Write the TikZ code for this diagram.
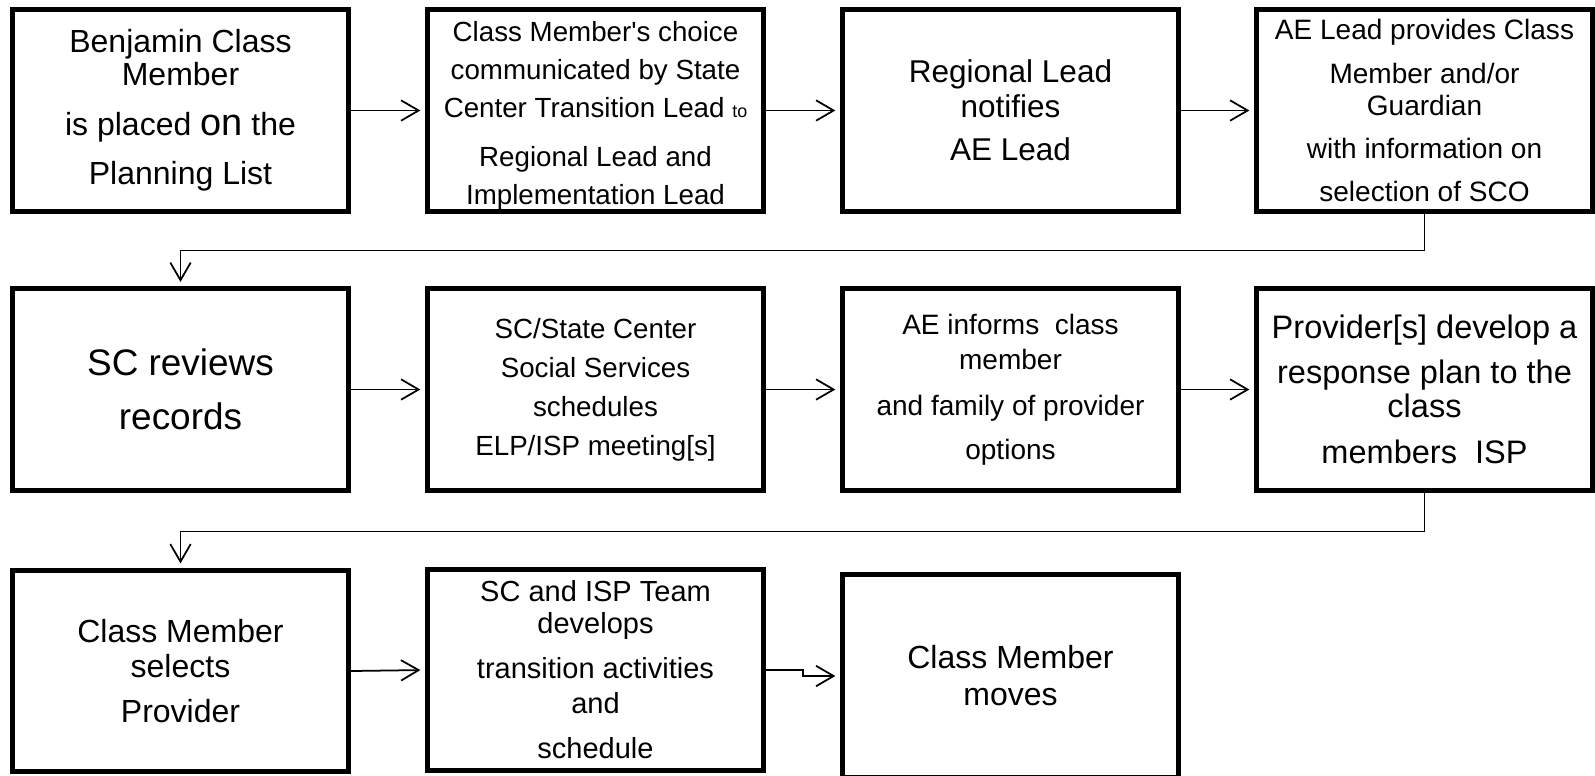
\documentclass[tikz,border=0pt]{standalone}
\usepackage{fontspec}
\setmainfont{Liberation Sans}
\usetikzlibrary{positioning,arrows.meta}
\newcommand{\boxfont}[2]{\fontsize{#1}{#2}\selectfont}
\tikzset{
  stepbox/.style={draw,line width=1.4pt,minimum width=3.36cm,minimum height=2.01cm,inner sep=0pt,align=center},
  flow/.style={line width=0.5pt,-{Straight Barb[length=5pt,width=5.8pt]},shorten >=1.3pt},
}

\begin{document}
\begin{tikzpicture}[x=0.01cm,y=-0.01cm]
\useasboundingbox (0,0) rectangle (1595,775);
% Row 1
\node[stepbox,font=\boxfont{9.1}{9.4}] (plan) at (180.5,110.5)
  {Benjamin Class\\Member\\[4.8pt]is placed {\boxfont{10.8}{10.8}on} the\\[4.5pt]Planning List};
\node[stepbox,font=\boxfont{7.88}{10.9}] (choice) at (595.5,110.5)
  {\rule{0pt}{8.6pt}Class Member\textquotesingle s choice\\communicated by State\\Center Transition Lead\ {\boxfont{5.1}{6}to}\\[2.8pt]Regional Lead and\\Implementation Lead};
\node[stepbox,font=\boxfont{8.96}{9.96}] (notify) at (1010.5,110.5)
  {Regional Lead\\notifies\\[2.3pt]AE Lead};
\node[stepbox,font=\boxfont{7.97}{9.1}] (inform) at (1424.5,110.5)
  {AE Lead provides Class\\[3.4pt]Member and/or\\Guardian\\[3.1pt]with information on\\[3.1pt]selection of SCO};
% Row 2
\node[stepbox,font=\boxfont{10.5}{15.4}] (review) at (180.5,389.5)
  {SC reviews\\records};
\node[stepbox,font=\boxfont{7.88}{11.1}] (meeting) at (595.5,389.5)
  {SC/State Center\\Social Services\\schedules\\ELP/ISP meeting[s]};
\node[stepbox,font=\boxfont{7.97}{9.96}] (options) at (1010.5,389.5)
  {AE informs\ \ class\\member\\[3.1pt]and family of provider\\[2.6pt]options};
\node[stepbox,font=\boxfont{9.25}{9.6}] (response) at (1424.5,389.5)
  {Provider[s] develop a\\[3.3pt]response plan to the\\class\\[3.6pt]members\ \ ISP};
% Row 3
\node[stepbox,font=\boxfont{9.1}{9.96}] (select) at (180.5,671)
  {Class Member\\selects\\[2.8pt]Provider};
\node[stepbox,font=\boxfont{8.25}{9.1}] (activity) at (595.5,670)
  {SC and ISP Team\\develops\\[3.7pt]transition activities\\[0.8pt]and\\[3.7pt]schedule};
\node[stepbox,minimum height=2.03cm,font=\boxfont{9.1}{10.5}] (moves) at (1010.5,676)
  {Class Member\\moves};
% Connectors
\draw[flow] (plan.east) -- (choice.west);
\draw[flow] (choice.east) -- (notify.west);
\draw[flow] (notify.east) -- (inform.west);
\draw[flow] (inform.south) -- ++(0,37) -| (review.north);
\draw[flow] (review.east) -- (meeting.west);
\draw[flow] (meeting.east) -- (options.west);
\draw[flow] (options.east) -- (response.west);
\draw[flow] (response.south) -- ++(0,39) -| (select.north);
\draw[flow] (select.east) -- (activity.west);
\draw[flow] (activity.east) -- ++(37,0) |- (moves.west);
\end{tikzpicture}
\end{document}
